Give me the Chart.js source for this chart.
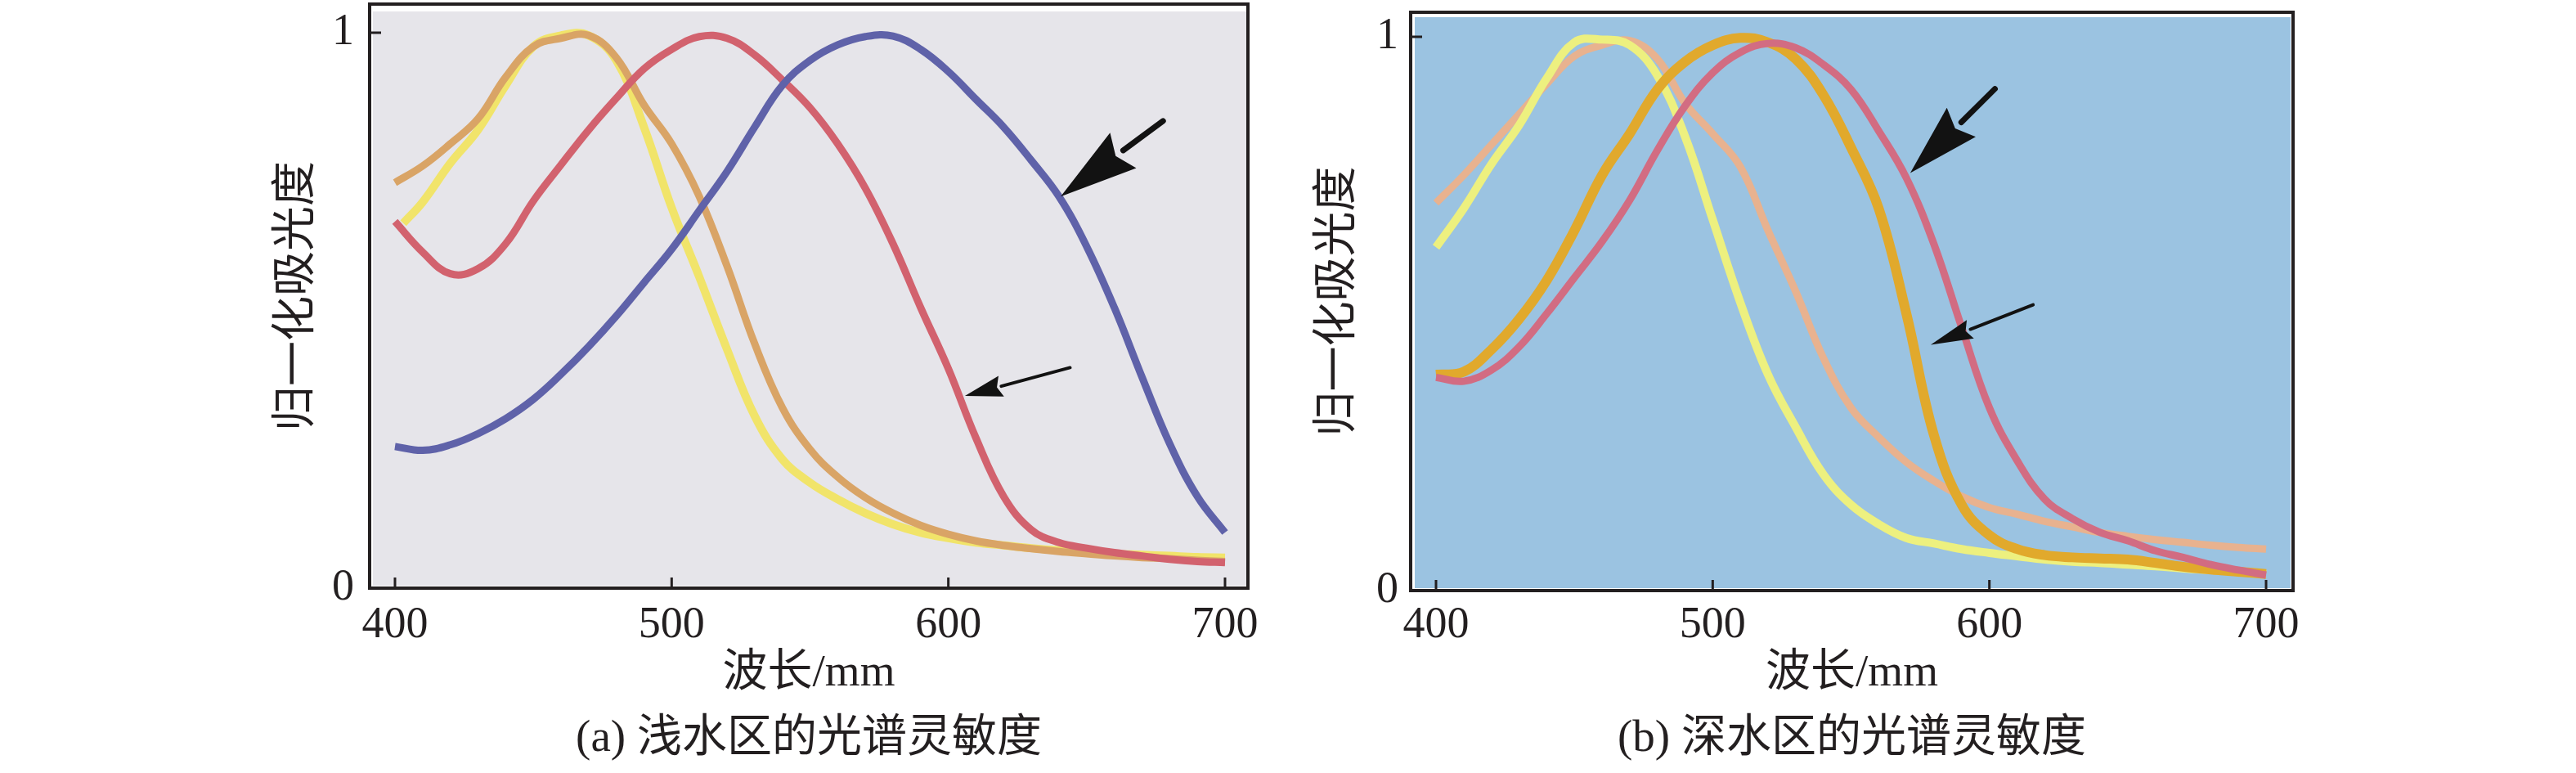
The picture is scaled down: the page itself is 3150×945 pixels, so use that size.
<!DOCTYPE html>
<html>
<head>
<meta charset="utf-8">
<title>光谱灵敏度</title>
<script src="https://cdn.jsdelivr.net/npm/chart.js@4.4.1/dist/chart.umd.min.js"></script>
<style>
    html, body { margin: 0; padding: 0; background: #fff; width: 3150px; height: 945px; overflow: hidden; }
    .panel { position: absolute; top: 0; height: 945px; }
    #panelA { left: 300px; width: 1260px; }
    #panelB { left: 1573px; width: 1262px; }
</style>
</head>
<body>
<div class="panel" id="panelA"><canvas id="chartA"></canvas></div>
<div class="panel" id="panelB"><canvas id="chartB"></canvas></div>
<script>
// ---- data (wavelength in nm, normalised absorbance) ----
const nmGrid = [400, 410, 420, 430, 440, 450, 460, 470, 480, 490, 500, 510, 520, 530, 540, 550,
                560, 570, 580, 590, 600, 610, 620, 630, 640, 650, 660, 670, 680, 690, 700];
const xTicks = [400, 500, 600, 700];
const yTicks = [0, 1];

// (a) shallow water
const aBlue   = [0.255, 0.248, 0.258, 0.278, 0.305, 0.34, 0.385, 0.435, 0.49, 0.55, 0.61, 0.68, 0.75, 0.83, 0.905, 0.95,
                 0.978, 0.993, 0.994, 0.97, 0.93, 0.88, 0.83, 0.77, 0.705, 0.615, 0.505, 0.38, 0.26, 0.165, 0.10];
const aRed    = [0.66, 0.605, 0.566, 0.575, 0.62, 0.697, 0.762, 0.825, 0.882, 0.935, 0.97, 0.993, 0.99, 0.96, 0.915, 0.865,
                 0.80, 0.72, 0.62, 0.505, 0.395, 0.27, 0.165, 0.105, 0.082, 0.072, 0.064, 0.058, 0.052, 0.048, 0.046];
const aOrange = [0.73, 0.76, 0.8, 0.845, 0.92, 0.975, 0.99, 0.995, 0.955, 0.87, 0.8, 0.705, 0.58, 0.44, 0.325, 0.25,
                 0.2, 0.163, 0.135, 0.113, 0.097, 0.085, 0.077, 0.071, 0.066, 0.062, 0.058, 0.055, 0.053, 0.05, 0.048];
const aYellowNm = [403, 410, 420, 430, 440, 450, 460, 470, 480, 490, 500, 510, 520, 530, 540, 550,
                   560, 570, 580, 590, 600, 610, 620, 630, 640, 650, 660, 670, 680, 690, 700];
const aYellow = [0.657, 0.695, 0.765, 0.825, 0.905, 0.975, 0.995, 0.995, 0.95, 0.83, 0.685, 0.56, 0.43, 0.31, 0.232, 0.19,
                 0.16, 0.135, 0.115, 0.1, 0.09, 0.082, 0.077, 0.072, 0.068, 0.065, 0.062, 0.06, 0.058, 0.056, 0.055];

// (b) deep water
const bYellow = [0.62, 0.69, 0.77, 0.84, 0.925, 0.99, 0.995, 0.985, 0.93, 0.82, 0.67, 0.52, 0.39, 0.295, 0.21, 0.155,
                 0.12, 0.095, 0.085, 0.075, 0.068, 0.062, 0.056, 0.052, 0.05, 0.047, 0.044, 0.04, 0.037, 0.034, 0.03];
const bSalmon = [0.70, 0.75, 0.805, 0.86, 0.915, 0.965, 0.985, 0.993, 0.96, 0.88, 0.825, 0.765, 0.65, 0.54, 0.42, 0.33,
                 0.277, 0.232, 0.198, 0.17, 0.15, 0.138, 0.125, 0.115, 0.105, 0.098, 0.092, 0.087, 0.082, 0.078, 0.075];
const bGold   = [0.39, 0.395, 0.435, 0.49, 0.56, 0.65, 0.75, 0.825, 0.905, 0.955, 0.985, 0.998, 0.99, 0.96, 0.895, 0.8,
                 0.69, 0.5, 0.28, 0.155, 0.1, 0.075, 0.064, 0.06, 0.058, 0.056, 0.05, 0.043, 0.038, 0.034, 0.03];
const bRed    = [0.385, 0.378, 0.398, 0.44, 0.50, 0.565, 0.63, 0.705, 0.795, 0.875, 0.935, 0.972, 0.988, 0.98, 0.95, 0.905,
                 0.83, 0.745, 0.625, 0.475, 0.33, 0.235, 0.165, 0.13, 0.105, 0.09, 0.072, 0.06, 0.047, 0.037, 0.028];

// arrows (data coordinates: tail -> tip)
const aArrowTailNm = [677.6, 644.0], aArrowTailVal = [0.841, 0.397];
const aArrowTipNm  = [640.6, 606.0], aArrowTipVal  = [0.705, 0.346];
const bArrowTailNm = [602.0, 615.8], bArrowTailVal = [0.906, 0.516];
const bArrowTipNm  = [571.4, 578.8], bArrowTipVal  = [0.754, 0.444];

const yTitle = '归一化吸光度';
const xTitle = '波长/mm';
const captionA = '(a) 浅水区的光谱灵敏度';
const captionB = '(b) 深水区的光谱灵敏度';

// ---- drawing ----
const ink = '#231f20';
const serif = "'Liberation Serif', 'Noto Sans CJK SC', serif";

function pts(xs, ys) { return xs.map((x, i) => ({ x, y: ys[i] })); }

function line(label, xs, ys, color, width, order) {
    return {
        label, data: pts(xs, ys), borderColor: color, borderWidth: width,
        pointRadius: 0, tension: 0.4, fill: false, order
    };
}

const panelPlugin = {
    id: 'panelPlugin',
    beforeDraw(chart, args, opts) {
        const { ctx, chartArea: a } = chart;
        const i = opts.inset;
        ctx.save();
        ctx.fillStyle = opts.bg;
        ctx.fillRect(a.left + i[0], a.top + i[1], a.width - i[0] - i[2], a.height - i[1] - i[3]);
        ctx.restore();
    },
    afterDatasetsDraw(chart, args, opts) {
        const { ctx, chartArea: a, scales: { x, y } } = chart;
        const ar = opts.arrows;
        ctx.save();
        ctx.fillStyle = '#121212';
        ctx.strokeStyle = '#121212';
        ctx.lineCap = 'round';
        ar.tipNm.forEach((nm, i) => {
            const x1 = x.getPixelForValue(ar.tailNm[i]), y1 = y.getPixelForValue(ar.tailVal[i]);
            const x2 = x.getPixelForValue(nm), y2 = y.getPixelForValue(ar.tipVal[i]);
            const [len, half, shaft] = opts.arrowSizes[i];
            const ang = Math.atan2(y2 - y1, x2 - x1);
            const c = Math.cos(ang), s = Math.sin(ang);
            const bx = x2 - len * c, by = y2 - len * s;
            ctx.lineWidth = shaft;
            ctx.beginPath(); ctx.moveTo(x1, y1); ctx.lineTo(bx, by); ctx.stroke();
            ctx.beginPath();
            ctx.moveTo(x2, y2);
            ctx.lineTo(bx + half * s, by - half * c);
            ctx.lineTo(bx + len * 0.12 * c, by + len * 0.12 * s);
            ctx.lineTo(bx - half * s, by + half * c);
            ctx.closePath();
            ctx.fill();
        });
        // box frame
        ctx.strokeStyle = ink;
        ctx.lineCap = 'butt';
        ctx.lineWidth = 4;
        ctx.strokeRect(a.left, a.top, a.width, a.height);
        // inward tick marks
        ctx.lineWidth = 3;
        ctx.beginPath();
        x.ticks.forEach(t => {
            const px = x.getPixelForValue(t.value);
            ctx.moveTo(px, a.bottom); ctx.lineTo(px, a.bottom - 13);
        });
        y.ticks.forEach(t => {
            const py = y.getPixelForValue(t.value);
            ctx.moveTo(a.left, py); ctx.lineTo(a.left + 14, py);
        });
        ctx.stroke();
        ctx.restore();
    }
};

function makeChart(id, cfg) {
    return new Chart(document.getElementById(id), {
        type: 'line',
        data: { datasets: cfg.datasets },
        options: {
            responsive: true,
            maintainAspectRatio: false,
            devicePixelRatio: 1,
            animation: false,
            layout: { padding: cfg.padding },
            scales: {
                x: {
                    type: 'linear', min: cfg.xMin, max: cfg.xMax,
                    afterBuildTicks: s => { s.ticks = xTicks.map(v => ({ value: v })); },
                    afterFit: s => { s.height = cfg.xHeight; s.paddingLeft = 0; s.paddingRight = 0; },
                    grid: { display: false, drawTicks: false },
                    border: { display: false },
                    ticks: { color: ink, font: { family: serif, size: 54 }, padding: cfg.xTickPad, maxRotation: 0, autoSkip: false },
                    title: { display: true, text: xTitle, color: ink, font: { family: serif, size: 55 }, padding: { top: 0, bottom: 14 } }
                },
                y: {
                    min: 0, max: cfg.yMax,
                    afterBuildTicks: s => { s.ticks = yTicks.map(v => ({ value: v })); },
                    afterFit: s => { s.width = 152; s.paddingTop = 0; s.paddingBottom = 0; },
                    grid: { display: false, drawTicks: false },
                    border: { display: false },
                    ticks: { color: ink, font: { family: serif, size: 54 }, padding: cfg.yTickPad },
                    title: { display: true, text: yTitle, color: ink, font: { family: serif, size: 55 }, padding: { top: 31, bottom: 0 } }
                }
            },
            plugins: {
                legend: { display: false },
                tooltip: { enabled: false },
                title: {
                    display: true, text: cfg.caption, position: 'bottom', fullSize: false,
                    color: ink, font: { family: serif, size: 55, weight: 'normal' },
                    padding: { top: 0, bottom: 8 }
                },
                panelPlugin: { bg: cfg.bg, inset: cfg.inset, arrows: cfg.arrows, arrowSizes: cfg.arrowSizes }
            }
        },
        plugins: [panelPlugin]
    });
}

makeChart('chartA', {
    datasets: [
        line('blue', nmGrid, aBlue, '#5f62a9', 9, 0),
        line('red', nmGrid, aRed, '#d2626e', 9, 1),
        line('orange', nmGrid, aOrange, '#d9a466', 9, 2),
        line('yellow', aYellowNm, aYellow, '#f1e46a', 10, 3)
    ],
    padding: { top: 5, right: 34, bottom: 0, left: 0 },
    xMin: 390.84, xMax: 708.28, yMax: 1.0515,
    xHeight: 152, xTickPad: 13, yTickPad: 19,
    caption: captionA,
    bg: '#e6e5ea', inset: [4, 9, 2, 3],
    arrows: { tailNm: aArrowTailNm, tailVal: aArrowTailVal, tipNm: aArrowTipNm, tipVal: aArrowTipVal },
    arrowSizes: [[95, 27, 7], [46, 13, 4]]
});

makeChart('chartB', {
    datasets: [
        line('red', nmGrid, bRed, '#d26c82', 9, 0),
        line('gold', nmGrid, bGold, '#e1a92c', 12, 1),
        line('yellow', nmGrid, bYellow, '#edf07f', 10, 2),
        line('salmon', nmGrid, bSalmon, '#e8b28f', 9, 3)
    ],
    padding: { top: 15, right: 31, bottom: 0, left: 0 },
    xMin: 390.84, xMax: 709.75, yMax: 1.0443,
    xHeight: 149, xTickPad: 10, yTickPad: 15,
    caption: captionB,
    bg: '#9bc3e1', inset: [5, 6, 3, 3],
    arrows: { tailNm: bArrowTailNm, tailVal: bArrowTailVal, tipNm: bArrowTipNm, tipVal: bArrowTipVal },
    arrowSizes: [[88, 25, 7], [52, 12, 4]]
});
</script>
</body>
</html>
